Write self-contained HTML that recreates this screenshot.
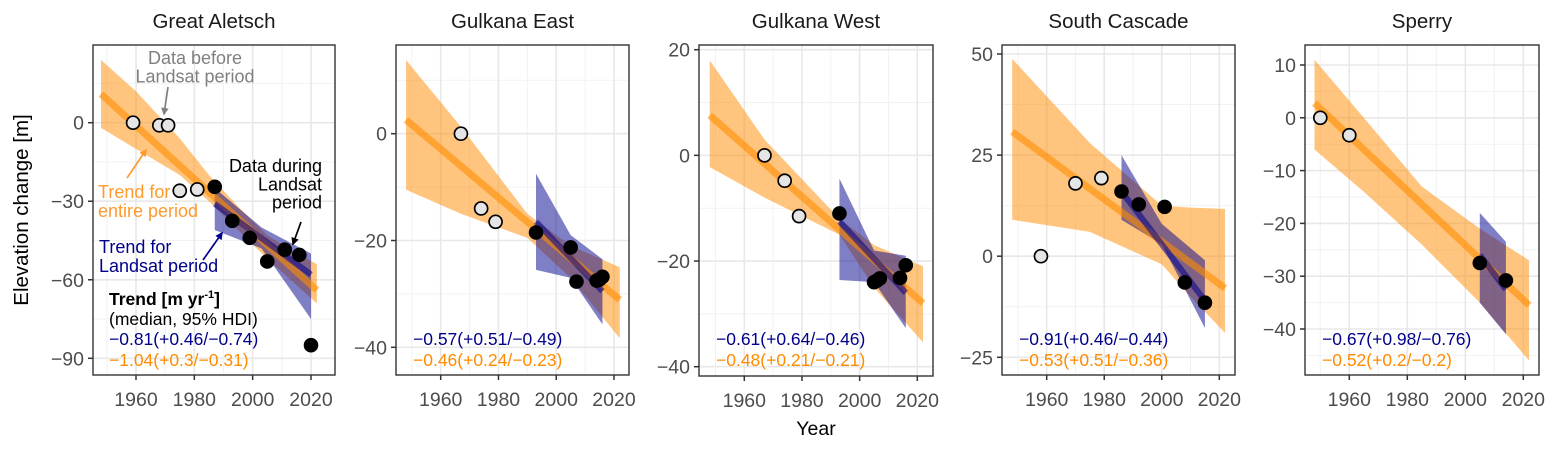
<!DOCTYPE html>
<html><head><meta charset="utf-8"><style>
html,body{margin:0;background:#fff;overflow:hidden;width:1558px;height:449px;}
svg{display:block;font-family:"Liberation Sans",Arial,sans-serif;}
</style></head><body>
<svg id="c" width="1558" height="449" viewBox="0 0 1558 449"></svg>
<script>
const panelTitles = ["Great Aletsch","Gulkana East","Gulkana West","South Cascade","Sperry"];
const yTicks = [[0,-30,-60,-90],[0,-20,-40],[20,0,-20,-40],[50,25,0,-25],[10,0,-10,-20,-30,-40]];
const xTicks = [1960,1980,2000,2020];
const openYears = [[1959,1968,1971,1975,1981],[1967,1974,1979],[1967,1974,1979],[1958,1970,1979],[1950,1960]];
const openVals = [[0,-1,-1,-26,-25.5],[0,-14,-16.5],[0,-4.8,-11.5],[0,18,19.3],[0,-3.3]];
const fillYears = [[1987,1993,1999,2005,2011,2016,2020],[1993,2005,2007,2014,2015,2016],[1993,2005,2006,2007,2014,2016],[1986,1992,2001,2008,2015],[2005,2014]];
const fillVals = [[-24.5,-37.5,-44,-53,-48.5,-50.5,-85],[-18.5,-21.3,-27.7,-27.5,-27.3,-26.8],[-11,-24,-23.7,-23.3,-23.2,-20.8],[16,12.8,12.2,-6.5,-11.5],[-27.5,-30.8]];
const orangeBandYears = [[1948,1960,1975,1985,1995,2005,2015,2022],[1948,1967,1990,2005,2022],[1948,1967,1993,2005,2022],[1948,1975,2000,2010,2022],[1948,1965,1985,2005,2022]];
const orangeUpper = [[24,12,-6,-20,-32,-43,-50,-54],[13.8,1.3,-15,-21,-25],[18,3,-12,-17,-21],[48.8,28,12.5,12,11.7],[11,0,-13,-21,-27]];
const orangeLower = [[-2,-10,-20,-30,-41,-52,-62,-69],[-10.5,-15,-19.5,-27,-38.3],[-2.2,-8,-15,-25,-35.4],[9,6,-2,-10,-19],[-6,-14,-24,-35,-46]];
const orangeLineYears = [[1948,2022],[1948,2022],[1948,2022],[1948,2022],[1948,2022]];
const orangeLineVals = [[11,-64],[2.6,-31.1],[7.6,-28],[30.8,-7.9],[2.8,-35.5]];
const blueBandYears = [[1987,2003,2020],[1993,2005,2016],[1993,2005,2016],[1986,2000,2015],[2005,2014]];
const blueUpper = [[-25,-40,-50],[-7.5,-19,-23.5],[-4.4,-18,-19],[25,8,-1],[-18,-23.5]];
const blueLower = [[-41,-48,-75],[-25.5,-27,-35.7],[-23.6,-24,-32.7],[9,3,-17.8],[-35,-41]];
const blueLineYears = [[1987,2020],[1993,2016],[1993,2016],[1986,2015],[2005,2014]];
const blueLineVals = [[-31,-58],[-16.5,-29.5],[-12.5,-26],[16,-11],[-26,-32.5]];
const blueLabels = ["\u22120.81(+0.46/\u22120.74)","\u22120.57(+0.51/\u22120.49)","\u22120.61(+0.64/\u22120.46)","\u22120.91(+0.46/\u22120.44)","\u22120.67(+0.98/\u22120.76)"];
const orangeLabels = ["\u22121.04(+0.3/\u22120.31)","\u22120.46(+0.24/\u22120.23)","\u22120.48(+0.21/\u22120.21)","\u22120.53(+0.51/\u22120.36)","\u22120.52(+0.2/\u22120.2)"];

const boxes = [
 {l:93,r:335,t:45,b:375, x1:136,x2:311, yv1:0,yp1:122.7,yv2:-90,yp2:358.3},
 {l:396,r:629,t:45,b:375, x1:440.7,x2:614, yv1:0,yp1:133.7,yv2:-40,yp2:347.3},
 {l:699,r:933,t:45,b:376, x1:744.3,x2:917.3, yv1:20,yp1:49.7,yv2:-40,yp2:366.7},
 {l:1002,r:1235,t:45,b:375, x1:1046.7,x2:1219.3, yv1:50,yp1:54,yv2:-25,yp2:357.3},
 {l:1305,r:1539,t:45,b:375, x1:1349.3,x2:1523.3, yv1:10,yp1:65,yv2:-40,yp2:329}
];
const NS="http://www.w3.org/2000/svg";
const svg=document.getElementById('c');
function mk(tag,attrs,parent){const e=document.createElementNS(NS,tag);for(const k in attrs)e.setAttribute(k,attrs[k]);(parent||svg).appendChild(e);return e;}
function txt(s,attrs,parent){const e=mk('text',attrs,parent);e.textContent=s;return e;}
const defs=mk('defs',{});
['#808080','#ff9a2e','#000','#00008b'].forEach((c,i)=>{const m=document.createElementNS(NS,'marker');m.setAttribute('id','ah'+i);m.setAttribute('viewBox','0 0 10 10');m.setAttribute('refX','8');m.setAttribute('refY','5');m.setAttribute('markerWidth','4.5');m.setAttribute('markerHeight','4.5');m.setAttribute('orient','auto');m.innerHTML='<path d="M0,0L10,5L0,10z" fill="'+c+'"/>';defs.appendChild(m);});

boxes.forEach((B,i)=>{
  const X=y=>B.x1+(y-1960)*(B.x2-B.x1)/60;
  const Y=v=>B.yp1+(v-B.yv1)*(B.yp2-B.yp1)/(B.yv2-B.yv1);
  const g=mk('g',{});
  
  
  const cid='clip'+i;
  const cp=mk('clipPath',{id:cid},defs);mk('rect',{x:B.l,y:B.t,width:B.r-B.l,height:B.b-B.t},cp);
  const inner=mk('g',{'clip-path':'url(#'+cid+')'},g);
  for(let yr=1950;yr<=2030;yr+=20){const gl=mk('line',{x1:X(yr),x2:X(yr),y1:B.t,y2:B.b,stroke:'#f2f2f2','stroke-width':1},inner);}
  const tk=yTicks[i];
  const step=tk[0]-tk[1];
  for(let v=tk[0]+step*1.5;v>=tk[tk.length-1]-step*1.5;v-=step){const gl=mk('line',{x1:B.l,x2:B.r,y1:Y(v),y2:Y(v),stroke:'#f2f2f2','stroke-width':1},inner);}
  xTicks.forEach(t=>{const gl=mk('line',{x1:X(t),x2:X(t),y1:B.t,y2:B.b,stroke:'#e8e8e8','stroke-width':1.6},inner);});
  tk.forEach(t=>{const gl=mk('line',{x1:B.l,x2:B.r,y1:Y(t),y2:Y(t),stroke:'#e8e8e8','stroke-width':1.6},inner);});
  const oy=orangeBandYears[i];
  let d='M'+oy.map((yr,k)=>X(yr)+','+Y(orangeUpper[i][k])).join('L')+'L'+oy.slice().reverse().map((yr,k)=>X(yr)+','+Y(orangeLower[i][oy.length-1-k])).join('L')+'Z';
  const ob=mk('path',{d:d,fill:'#ff8c00','fill-opacity':0.5},inner);
  
  
  const by=blueBandYears[i];
  d='M'+by.map((yr,k)=>X(yr)+','+Y(blueUpper[i][k])).join('L')+'L'+by.slice().reverse().map((yr,k)=>X(yr)+','+Y(blueLower[i][by.length-1-k])).join('L')+'Z';
  const bb=mk('path',{d:d,fill:'#00008b','fill-opacity':0.5},inner);
  
  
  const ol=mk('line',{x1:X(orangeLineYears[i][0]),y1:Y(orangeLineVals[i][0]),x2:X(orangeLineYears[i][1]),y2:Y(orangeLineVals[i][1]),stroke:'#ff8c00','stroke-opacity':0.6,'stroke-width':7},inner);
  
  
  const bl=mk('line',{x1:X(blueLineYears[i][0]),y1:Y(blueLineVals[i][0]),x2:X(blueLineYears[i][1]),y2:Y(blueLineVals[i][1]),stroke:'#00008b','stroke-opacity':0.55,'stroke-width':6},inner);
  
  
  openYears[i].forEach((yr,k)=>{const c=mk('circle',{cx:X(yr),cy:Y(openVals[i][k]),r:6.5,fill:'#e5e5e5',stroke:'#000','stroke-width':1.7},inner);});
  fillYears[i].forEach((yr,k)=>{const c=mk('circle',{cx:X(yr),cy:Y(fillVals[i][k]),r:7.3,fill:'#000'},inner);});
  const fr=mk('rect',{x:B.l,y:B.t,width:B.r-B.l,height:B.b-B.t,fill:'none',stroke:'#333','stroke-width':1.4},g);
  
  
  xTicks.forEach(t=>{mk('line',{x1:X(t),x2:X(t),y1:B.b,y2:B.b+5,stroke:'#333','stroke-width':1.5},g);const tl=txt(String(t),{x:X(t),y:B.b+31,'text-anchor':'middle','font-size':19.5,fill:'#4d4d4d'},g);});
  tk.forEach(t=>{mk('line',{x1:B.l-5,x2:B.l,y1:Y(t),y2:Y(t),stroke:'#333','stroke-width':1.5},g);const tl=txt(String(t).replace('-','\u2212'),{x:B.l-9,y:Y(t)+7,'text-anchor':'end','font-size':19.5,fill:'#4d4d4d'},g);});
  const ti=txt(panelTitles[i],{x:(B.l+B.r)/2,y:28,'text-anchor':'middle','font-size':20.5,fill:'#1a1a1a'},g);
  
  
  const lx = i===0 ? 109 : B.l+17;
  const b1=txt(blueLabels[i],{x:lx,y:345,'font-size':17.5,fill:'#00008b'},g);
  
  
  const o1=txt(orangeLabels[i],{x:lx,y:366,'font-size':17.5,fill:'#ff8c00'},g);
  
  
});
const ann=mk('g',{});


function aText(lines,x,y,color,anchor,name,dy){const t=mk('text',{x:x,y:y,'font-size':18,fill:color,'text-anchor':anchor||'start'},ann);lines.forEach((s,k)=>{const ts=mk('tspan',{x:x,dy:k?dy:0},t);ts.textContent=s;});}
aText(['Data before','Landsat period'],195,64,'#808080','middle','data-before-landsat-label',18.5);
mk('line',{x1:168,y1:87,x2:164,y2:114,stroke:'#808080','stroke-width':1.7,'marker-end':'url(#ah0)'},ann);
aText(['Trend for','entire period'],98,198,'#ff9a2e','start','trend-entire-label',19);
mk('line',{x1:127,y1:178,x2:146,y2:150,stroke:'#ff9a2e','stroke-width':1.7,'marker-end':'url(#ah1)'},ann);
aText(['Data during','Landsat','period'],322,172,'#000','end','data-during-landsat-label',18.3);
mk('line',{x1:301,y1:222,x2:293,y2:244,stroke:'#000','stroke-width':1.7,'marker-end':'url(#ah2)'},ann);
aText(['Trend for','Landsat period'],99,253,'#00008b','start','trend-landsat-label',19);
mk('line',{x1:203,y1:260,x2:222,y2:233,stroke:'#00008b','stroke-width':1.7,'marker-end':'url(#ah3)'},ann);
const tt=mk('text',{x:109,y:305,'font-size':17.5,'font-weight':'bold',fill:'#000'},ann);


tt.innerHTML='Trend [m yr<tspan dy="-7" font-size="11">-1</tspan><tspan dy="7">]</tspan>';
const ts2=txt('(median, 95% HDI)',{x:109,y:325,'font-size':17.5,fill:'#000'},ann);


const yt=txt('Elevation change [m]',{x:0,y:0,'font-size':20.5,fill:'#000','text-anchor':'middle',transform:'translate(28,210) rotate(-90)'});


const xt=txt('Year',{x:816,y:435,'font-size':19.5,fill:'#000','text-anchor':'middle'});


</script>
</body></html>
